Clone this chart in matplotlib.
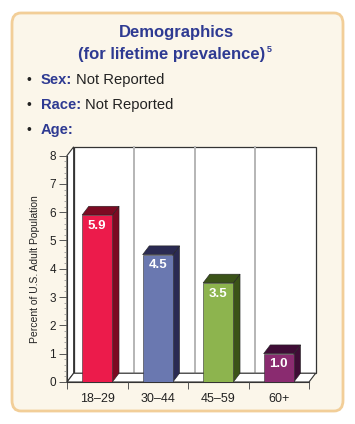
import numpy as np
import matplotlib
matplotlib.use("Agg")
import matplotlib.pyplot as plt
from matplotlib.patches import FancyBboxPatch, Polygon

plt.rcParams['font.family'] = ['Liberation Sans', 'DejaVu Sans']

# data
ages = ['18\u201329', '30\u201344', '45\u201359', '60+']
values = [5.9, 4.5, 3.5, 1.0]
front_colors = ['#EC1B4B', '#6A78B0', '#8DB44E', '#8A2B70']
side_colors = ['#7C0A22', '#2A2A52', '#3B5318', '#3F0C36']

W, H = 355, 424
fig = plt.figure(figsize=(W / 100, H / 100), dpi=100)
fig.patch.set_facecolor('white')

def fx(px):
    return px / W

def fy(py):
    return 1 - py / H

# cream panel
panel = FancyBboxPatch((fx(12), fy(411)), fx(331), 398 / H,
                       boxstyle="round,pad=0,rounding_size=0.025",
                       transform=fig.transFigure, facecolor='#FBF6EA',
                       edgecolor='#F2CE98', linewidth=2, zorder=-10)
fig.patches.append(panel)

blue = '#2E3A92'
fig.text(fx(176), fy(32), 'Demographics', ha='center', va='center',
         fontsize=12, fontweight='bold', color=blue)
t2 = fig.text(fx(172), fy(54), '(for lifetime prevalence)', ha='center', va='center',
              fontsize=12, fontweight='bold', color=blue)
fig.canvas.draw()
bb = t2.get_window_extent()
fig.text(bb.x1 / W + fx(1), fy(50), '5', ha='left', va='center',
         fontsize=6.5, fontweight='bold', color=blue)

rows = [('Sex:', 'Not Reported', 80), ('Race:', 'Not Reported', 105), ('Age:', '', 130)]
for lab, val, py in rows:
    fig.text(fx(29), fy(py), '\u2022', ha='center', va='center', fontsize=10, color='#222222')
    t = fig.text(fx(41), fy(py), lab, ha='left', va='center',
                 fontsize=10.6, fontweight='bold', color=blue)
    if val:
        fig.canvas.draw()
        bb = t.get_window_extent()
        fig.text(bb.x1 / W + fx(4), fy(py), val, ha='left', va='center',
                 fontsize=10.6, color='#222222')

# chart axes: front x axis from px 67 to 309, y 0..8 from py 382 to 155.6
ax = fig.add_axes([fx(67), fy(382), fx(242), 226.4 / H])
ax.set_zorder(2)
ax.set_xlim(-0.5, 3.5)
ax.set_ylim(0, 8)
ax.patch.set_visible(False)
for s in ['top', 'right', 'bottom']:
    ax.spines[s].set_visible(False)
ax.spines['left'].set_color('#333333')
ax.spines['left'].set_linewidth(0.8)

dx, dy = 0.11, 0.31
x = np.arange(len(values))
bw = 0.5

# back wall
wall = Polygon([(-0.5 + dx, dy), (3.5 + dx, dy), (3.5 + dx, 8 + dy), (-0.5 + dx, 8 + dy)],
               closed=True, facecolor='white', edgecolor='#333333', linewidth=0.9,
               clip_on=False, zorder=0)
ax.add_patch(wall)
for b in [0.5, 1.5, 2.5]:
    ax.plot([b + dx, b + dx], [dy, 8 + dy], color='#B5B5B5', linewidth=1.4,
            clip_on=False, zorder=0.5)
# left wall
lw = Polygon([(-0.5, 0), (-0.5 + dx, dy), (-0.5 + dx, 8 + dy), (-0.5, 8)],
             closed=True, facecolor='white', edgecolor='#333333', linewidth=0.8,
             clip_on=False, zorder=0.6)
ax.add_patch(lw)
# floor
floor = Polygon([(-0.5, 0), (3.5, 0), (3.5 + dx, dy), (-0.5 + dx, dy)],
                closed=True, facecolor='white', edgecolor='#333333', linewidth=0.8,
                clip_on=False, zorder=0.7)
ax.add_patch(floor)

# bars
ax.bar(x, values, width=bw, color=front_colors, edgecolor='#333333',
       linewidth=0.4, zorder=3)
for xi, v, sc in zip(x, values, side_colors):
    l, r = xi - bw / 2, xi + bw / 2
    side = Polygon([(r, 0), (r + dx, dy), (r + dx, v + dy), (r, v)], closed=True,
                   facecolor=sc, edgecolor='#222222', linewidth=0.4, zorder=2)
    top = Polygon([(l, v), (l + dx, v + dy), (r + dx, v + dy), (r, v)], closed=True,
                  facecolor=sc, edgecolor='#222222', linewidth=0.4, zorder=2)
    ax.add_patch(side)
    ax.add_patch(top)
    ax.text(xi, v - 0.38, f'{v:.1f}', ha='center', va='center', color='white',
            fontsize=9.5, fontweight='bold', zorder=4)

ax.set_yticks(range(0, 9))
ax.set_yticks(np.arange(0, 8.01, 0.2), minor=True)
ax.tick_params(axis='y', which='major', length=6, width=0.7, color='#555555',
               labelsize=8.5, labelcolor='#222222', pad=2)
ax.tick_params(axis='y', which='minor', length=2.5, width=0.5, color='#888888')

ax.set_xticks([-0.5, 0.5, 1.5, 2.5, 3.5])
ax.set_xticklabels([])
ax.set_xticks(x, minor=True)
ax.set_xticklabels(ages, minor=True)
ax.tick_params(axis='x', which='major', length=5, width=0.7, color='#555555')
ax.tick_params(axis='x', which='minor', length=0, labelsize=9, labelcolor='#222222', pad=8)
ax.plot([-0.5, 3.5], [0, 0], color='#333333', linewidth=0.8, clip_on=False, zorder=1)

ax.set_ylabel('Percent of U.S. Adult Population', fontsize=7.5, color='#222222', labelpad=7)

fig.savefig('out.png', dpi=100, facecolor='white')
